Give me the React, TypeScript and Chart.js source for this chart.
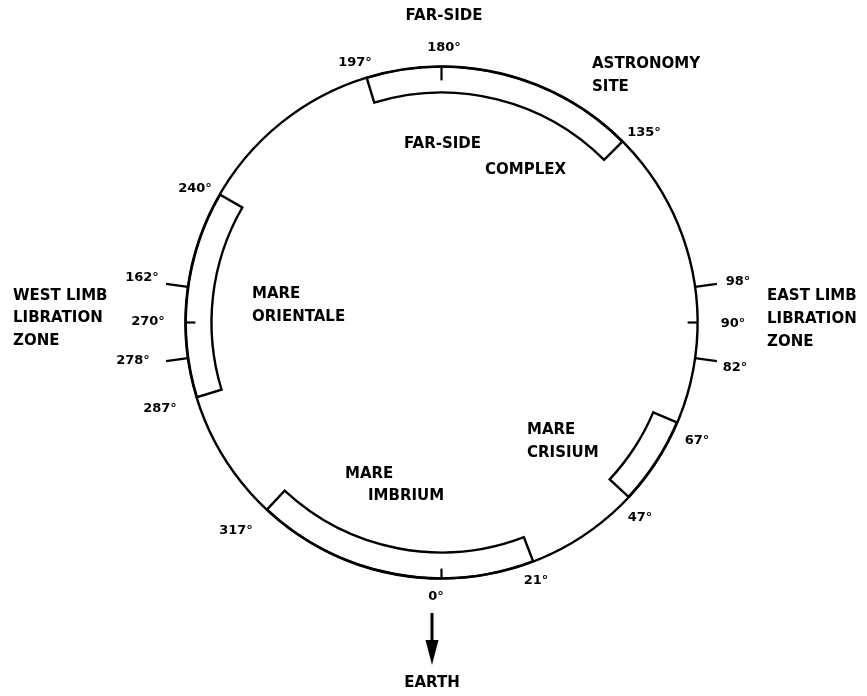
import React, { useEffect, useRef } from 'react';
import { Chart, registerables } from 'chart.js';

Chart.register(...registerables);

// Region boundaries (degrees, 0° = toward Earth, 90° = east limb), in clockwise order starting at 197°
const boundaryDeg = [197, 135, 67, 47, 21, 317, 287, 240];
const segmentNames = ['FAR-SIDE COMPLEX', '', 'MARE CRISIUM', '', 'MARE IMBRIUM', '', 'MARE ORIENTALE', ''];
const segmentIsRegion = [true, false, true, false, true, false, true, false];

// Tick marks on the circle
const tickAngles = [0, 82, 90, 98, 180, 262, 270, 278];
const tickOutward = [false, true, false, true, false, true, false, true];

// Degree labels
const degreeLabels = ['180°', '197°', '135°', '240°', '162°', '270°', '278°', '287°', '317°', '0°', '21°', '47°', '67°', '82°', '90°', '98°'];

// Area labels (lines)
const areaLabels = [
  ['FAR-SIDE'],
  ['ASTRONOMY', 'SITE'],
  ['FAR-SIDE', 'COMPLEX'],
  ['WEST LIMB', 'LIBRATION', 'ZONE'],
  ['MARE', 'ORIENTALE'],
  ['EAST LIMB', 'LIBRATION', 'ZONE'],
  ['MARE', 'CRISIUM'],
  ['MARE', 'IMBRIUM'],
  ['EARTH'],
];

const segmentSpans = boundaryDeg.map((d, i) => {
  const next = boundaryDeg[(i + 1) % boundaryDeg.length];
  return (((d - next) % 360) + 360) % 360;
});

// Layout (pixel offsets from circle centre)
const degreeLabelPos: [number, number][] = [
  [2.5, -274.5], [-86.5, -259.5], [202.5, -189.5], [-246.5, -133.5],
  [-299.5, -44.5], [-293.5, -0.5], [-308.5, 38.5], [-281.5, 86.5],
  [-205.5, 208.5], [-5.5, 274.5], [94.5, 258.5], [198.5, 195.5],
  [255.5, 118.5], [293.5, 45.5], [291.5, 1.5], [296.5, -40.5],
];
const areaLabelPos: { x: number; y: number; gap: number; align: CanvasTextAlign; shifts?: number[] }[] = [
  { x: 2.5, y: -306.5, gap: 0, align: 'center' },
  { x: 150.5, y: -258.5, gap: 23, align: 'left' },
  { x: -37.5, y: -178.5, gap: 26, align: 'left', shifts: [0, 81] },
  { x: -428.5, y: -26.5, gap: 22.5, align: 'left' },
  { x: -189.5, y: -28.5, gap: 23, align: 'left' },
  { x: 325.5, y: -26.5, gap: 23, align: 'left' },
  { x: 85.5, y: 107.5, gap: 23, align: 'left' },
  { x: -96.5, y: 151.5, gap: 22, align: 'left', shifts: [0, 23] },
  { x: -9.5, y: 360.5, gap: 0, align: 'center' },
];

const annotationPlugin = {
  id: 'lunarAnnotations',
  afterDraw(chart: any) {
    const meta = chart.getDatasetMeta(0);
    const arc = meta.data[0];
    if (!arc) return;
    const cx = arc.x;
    const cy = arc.y;
    const R = (arc.outerRadius + arc.innerRadius) / 2;
    const ctx: CanvasRenderingContext2D = chart.ctx;
    ctx.save();
    ctx.strokeStyle = '#000';
    ctx.fillStyle = '#000';
    ctx.lineWidth = 2.2;
    ctx.lineCap = 'butt';
    tickAngles.forEach((deg, i) => {
      const t = (deg * Math.PI) / 180;
      const sx = Math.sin(t);
      const sy = Math.cos(t);
      const len = tickOutward[i] ? 22 : deg === 180 ? 14 : 10;
      const r2 = tickOutward[i] ? R + len : R - len;
      ctx.beginPath();
      ctx.moveTo(cx + R * sx, cy + R * sy);
      ctx.lineTo(cx + r2 * sx, cy + r2 * sy);
      ctx.stroke();
    });
    ctx.font = 'bold 13px "DejaVu Sans"';
    ctx.textBaseline = 'middle';
    ctx.textAlign = 'center';
    degreeLabels.forEach((txt, i) => {
      const [dx, dy] = degreeLabelPos[i];
      ctx.fillText(txt, cx + dx, cy + dy);
    });
    ctx.font = 'bold 15px "DejaVu Sans"';
    areaLabels.forEach((lines, i) => {
      const p = areaLabelPos[i];
      ctx.textAlign = p.align;
      lines.forEach((line, j) => {
        const sh = p.shifts ? p.shifts[j] : 0;
        ctx.fillText(line, cx + p.x + sh, cy + p.y + j * p.gap);
      });
    });
    const ax = cx - 9.5;
    ctx.lineWidth = 3;
    ctx.beginPath();
    ctx.moveTo(ax, cy + 290.5);
    ctx.lineTo(ax, cy + 320);
    ctx.stroke();
    ctx.beginPath();
    ctx.moveTo(ax - 6.5, cy + 317.5);
    ctx.lineTo(ax + 6.5, cy + 317.5);
    ctx.lineTo(ax, cy + 342.5);
    ctx.closePath();
    ctx.fill();
    ctx.restore();
  },
};

export default function App() {
  const canvasRef = useRef<HTMLCanvasElement | null>(null);
  useEffect(() => {
    if (!canvasRef.current) return;
    const chart = new Chart(canvasRef.current, {
      type: 'doughnut',
      data: {
        labels: segmentNames,
        datasets: [
          {
            label: 'Lunar circle',
            data: [360],
            backgroundColor: ['#000'],
            borderColor: ['#000'],
            borderWidth: 1.6,
            weight: 0.8,
          } as any,
          {
            label: 'Regions',
            data: segmentSpans,
            backgroundColor: segmentIsRegion.map((r) => (r ? '#fff' : 'rgba(0,0,0,0)')),
            borderColor: segmentIsRegion.map((r) => (r ? '#000' : 'rgba(0,0,0,0)')),
            borderWidth: segmentIsRegion.map((r) => (r ? 2.4 : 0)),
            borderJoinStyle: 'miter',
            weight: 25.7,
          } as any,
        ],
      },
      options: {
        animation: false,
        responsive: false,
        rotation: 180 - boundaryDeg[0],
        radius: 256.5,
        cutout: '89.67%',
        layout: { padding: { left: 16, right: 0, top: 0, bottom: 51 } },
        plugins: { legend: { display: false }, tooltip: { enabled: false } },
        events: [],
      } as any,
      plugins: [annotationPlugin],
    });
    return () => chart.destroy();
  }, []);
  return (
    <div style={{ position: 'absolute', left: 0, top: 0, width: 867, height: 696, background: '#fff' }}>
      <canvas ref={canvasRef} width={867} height={696} style={{ display: 'block' }} />
    </div>
  );
}
